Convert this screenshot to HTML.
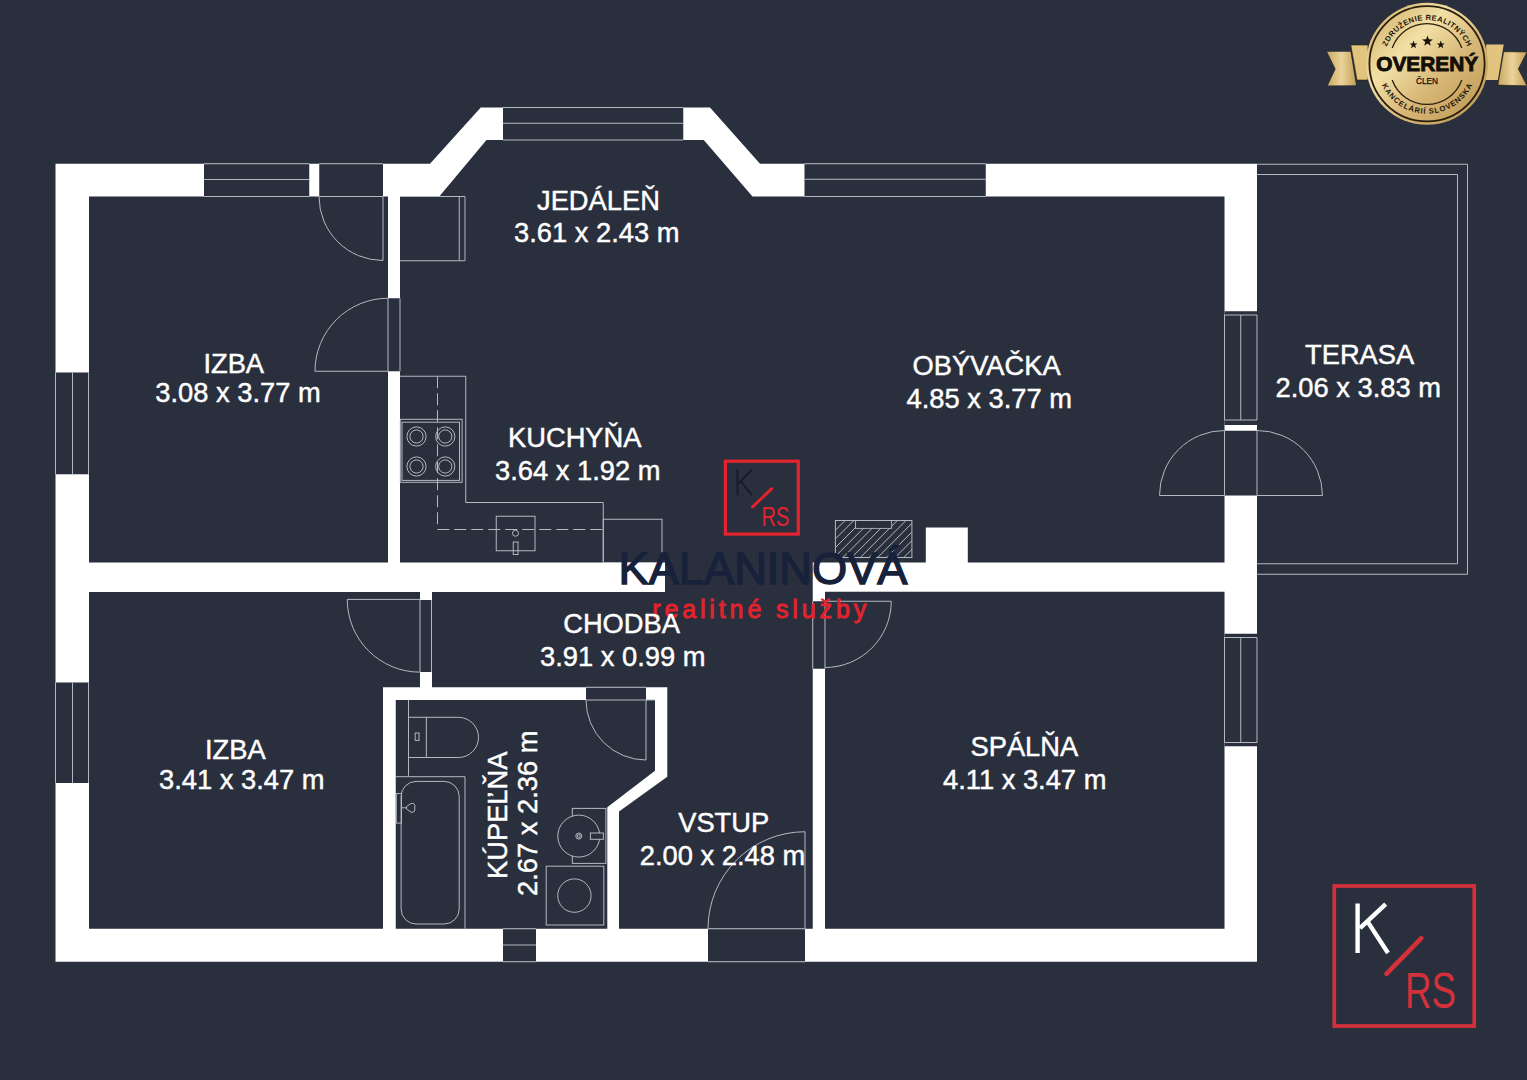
<!DOCTYPE html>
<html><head><meta charset="utf-8">
<style>
html,body{margin:0;padding:0;background:#2a2f3d;width:1527px;height:1080px;overflow:hidden}
svg{display:block}
.t{font-family:"Liberation Sans",sans-serif;font-size:27.3px;fill:#fff;stroke:#fff;stroke-width:0.45}
.ln{fill:none;stroke:#b3b8c2;stroke-width:1}
</style></head>
<body>
<svg width="1527" height="1080" viewBox="0 0 1527 1080">
<rect x="0" y="0" width="1527" height="1080" fill="#2a2f3d"/>
<!-- building footprint (white) -->
<polygon fill="#fff" points="55.5,163.75 430,163.75 480.75,107.5 710,107.5 760,163.75 1257,163.75 1257,961.75 55.5,961.75"/>
<g fill="#2a2f3d">
<rect x="89" y="196.5" width="299" height="366"/>
<polygon points="400,196.5 439.25,196.5 486.5,140 703.75,140 752.5,196.5 1224.5,196.5 1224.5,562.5 400,562.5"/>
<polygon points="89,592 420,592 420,687.25 383,687.25 383,928.75 89,928.75"/>
<polygon points="432,592 812.75,592 812.75,928.75 619,928.75 619,811.5 667.3,776.7 667.3,687.25 432,687.25"/>
<polygon points="395.75,700 655,700 655,770.8 607.3,807.2 607.3,928.75 395.75,928.75"/>
<rect x="825" y="591.75" width="399.5" height="337"/>
<!-- windows openings -->
<rect x="204" y="163.75" width="105.25" height="32.75"/>
<rect x="503" y="107.5" width="180.25" height="32.5"/>
<rect x="804.5" y="163.75" width="181.25" height="32.75"/>
<rect x="55.5" y="372.5" width="33.5" height="101.75"/>
<rect x="55.5" y="682.5" width="33.5" height="100.5"/>
<rect x="1224.5" y="311.25" width="32.5" height="113.75"/>
<rect x="1224.5" y="633.75" width="32.5" height="112.5"/>
<rect x="503" y="928.75" width="33" height="33"/>
<!-- door openings -->
<rect x="319.25" y="163.75" width="63.75" height="32.75"/>
<rect x="388" y="298.25" width="12" height="73"/>
<rect x="665" y="562" width="147.75" height="30.5"/>
<rect x="420" y="600" width="12" height="72"/>
<rect x="586" y="687.25" width="60" height="12.75"/>
<rect x="812.75" y="601.25" width="12.25" height="67.5"/>
<rect x="708" y="928.75" width="97" height="33"/>
<rect x="1224.5" y="430.75" width="32.5" height="64.75"/>
</g>
<!-- column block -->
<rect x="925.8" y="527.5" width="42" height="36" fill="#fff"/>
<g class="ln">
<!-- window lines -->
<path d="M204,163.75H309.25M204,179.5H309.25M204,196.5H309.25"/>
<path d="M503,107.5H683.25M503,123.25H683.25M503,140H683.25"/>
<path d="M804.5,163.75H985.75M804.5,179.25H985.75M804.5,196.5H985.75"/>
<path d="M55.5,372.5V474.25M72.5,372.5V474.25M88.5,372.5V474.25"/>
<path d="M55.5,682.5V783M72.5,682.5V783M88.5,682.5V783"/>
<path d="M1224.5,315H1257M1224.5,420H1257M1224.5,315V420M1240.75,315V420M1257,315V420"/>
<path d="M1224.5,637.5H1257M1224.5,742.5H1257M1224.5,637.5V742.5M1240.75,637.5V742.5M1257,637.5V742.5"/>
<path d="M503,928.75H536M503,945H536M503,961.75H536"/>
<!-- door: IZBA top -->
<path d="M319.25,163.75H383M319.25,196.5H383M319,196.5A64,64 0 0 0 383,260.5V196.5"/>
<!-- door IZBA -> kitchen -->
<path d="M388,298.25V371.25M400,298.25V371.25M315,371.25H388M315,371.25A73,73 0 0 1 388,298.25"/>
<!-- terrace double door -->
<path d="M1224.5,430.75V495.5M1257,430.75V495.5M1159.5,495.5H1224.5M1159.5,495.5A65,65 0 0 1 1224.5,430.5M1257,430.5A65.5,65.5 0 0 1 1322.5,495.5H1257"/>
<!-- door IZBA2 -->
<path d="M347.25,599.4H420V672.15M431.5,600V672M347.25,599.4A72.75,72.75 0 0 0 420,672.15"/>
<!-- bathroom door -->
<path d="M586,700H655M646,700V760M586,700A60,60 0 0 0 646,760M586,687.25H646"/>
<!-- bedroom door -->
<path d="M825,601.25H891.25M825,601.25V668.75M812.75,601.25V668.75M891.25,601.25A66.25,66.25 0 0 1 825,667.5"/>
<!-- entry door -->
<path d="M708,928.75H805M708,961.75H805M805,831.75V928.75M708,928.75A97,97 0 0 1 805,831.75"/>
<!-- terrace -->
<path d="M1257,164.25H1467.5V574.25H1257M1257,174.5H1457.5V563.75H1257"/>
<!-- kitchen cabinet -->
<path d="M400,196.5H465V260.75H400M459.25,196.5V260.75"/>
<!-- counter -->
<path d="M400,376.25H465.75V502.5H603.25V562.5"/>
<path d="M437.5,376.25V529.5H603.25" stroke-dasharray="12,5"/>
<rect x="400.3" y="419.3" width="61.8" height="63"/>
<rect x="402" y="422.2" width="57.5" height="58.2"/>
<circle cx="416.5" cy="436.5" r="9.6"/><circle cx="416.5" cy="436.5" r="6.6"/>
<circle cx="445.25" cy="436.5" r="9.6"/><circle cx="445.25" cy="436.5" r="6.6"/>
<circle cx="416.5" cy="466.5" r="9.6"/><circle cx="416.5" cy="466.5" r="6.6"/>
<circle cx="445.25" cy="466.5" r="9.6"/><circle cx="445.25" cy="466.5" r="6.6"/>
<rect x="496.25" y="516.25" width="38.75" height="34.5"/>
<circle cx="515.5" cy="533.25" r="3"/>
<rect x="513.25" y="542" width="4.75" height="12.5"/>
<rect x="603.25" y="519.25" width="58.75" height="43.25"/>
<!-- fireplace hatch -->
<rect x="835.4" y="520.5" width="76.5" height="37"/>
<rect x="855.6" y="520.5" width="36" height="7.8"/>
<!-- bathroom: toilet -->
<path d="M408.5,700V775.8"/>
<rect x="408.5" y="717.3" width="17.85" height="40.2"/>
<rect x="415.2" y="733" width="3.8" height="7.4"/>
<path d="M426.35,717.3H458.4A20.1,20.1 0 0 1 458.4,757.5H426.35"/>
<!-- tub -->
<path d="M395.75,776.7H465V928.75"/>
<rect x="401.1" y="781.4" width="58.1" height="142.6" rx="15" ry="15"/>
<rect x="396.3" y="793.6" width="5.2" height="29.5"/>
<path d="M401.1,807.8H406.5M406.5,806.6L411,803.6Q415,802.6 414.8,806Q414.8,808 414.8,810Q414.5,813 411,812.2L406.5,809Z"/>
<!-- sink -->
<rect x="572.3" y="808.4" width="33.6" height="55"/>
<circle cx="578.8" cy="836.1" r="21" fill="#2a2f3d"/>
<circle cx="578.8" cy="836.1" r="3"/><circle cx="578.8" cy="836.1" r="1.5"/>
<rect x="590.4" y="833" width="13" height="6.3" fill="#2a2f3d"/>
<!-- washing machine -->
<rect x="546.2" y="866.2" width="57.6" height="58.8"/>
<circle cx="574.4" cy="895.6" r="16.7"/>
</g>


<!-- fireplace hatch -->
<clipPath id="hc"><rect x="835.4" y="520.5" width="76.5" height="37"/></clipPath>
<g clip-path="url(#hc)" class="ln" stroke="#c4c7cc">
<path d="M799.40,557.5L836.40,520.5"/>
<path d="M808.10,557.5L845.10,520.5"/>
<path d="M816.80,557.5L853.80,520.5"/>
<path d="M825.50,557.5L862.50,520.5"/>
<path d="M834.20,557.5L871.20,520.5"/>
<path d="M842.90,557.5L879.90,520.5"/>
<path d="M851.60,557.5L888.60,520.5"/>
<path d="M860.30,557.5L897.30,520.5"/>
<path d="M869.00,557.5L906.00,520.5"/>
<path d="M877.70,557.5L914.70,520.5"/>
<path d="M886.40,557.5L923.40,520.5"/>
<path d="M895.10,557.5L932.10,520.5"/>
<path d="M903.80,557.5L940.80,520.5"/>
<path d="M912.50,557.5L949.50,520.5"/>
<path d="M921.20,557.5L958.20,520.5"/>
<path d="M929.90,557.5L966.90,520.5"/>
<path d="M938.60,557.5L975.60,520.5"/>
<path d="M947.30,557.5L984.30,520.5"/>
</g>
<rect x="856.1" y="521" width="35" height="6.8" fill="#2a2f3d"/>
<!-- KALANINOVA logo -->
<text x="763" y="584.2" text-anchor="middle" font-family="Liberation Sans, sans-serif" font-size="45.2" fill="#17213a" stroke="#17213a" stroke-width="1.4" textLength="289" lengthAdjust="spacingAndGlyphs">KALANINOVÁ</text>
<text x="652.2" y="617.8" font-family="Liberation Sans, sans-serif" font-size="25" fill="#e3232d" stroke="#e3232d" stroke-width="0.9" textLength="214" lengthAdjust="spacing">realitné služby</text>
<!-- small K/RS logo -->
<g fill="none" stroke-linecap="butt">
<rect x="725.4" y="461.2" width="72.9" height="72.9" stroke="#e3232d" stroke-width="3.2"/>
<path d="M737.5,469.5V495.3M751.7,469.9L738.3,483.7M741.25,482L752.1,495.3" stroke="#141c2e" stroke-width="2"/>
<path d="M771.7,488.7L752.5,507" stroke="#e3232d" stroke-width="3" stroke-linecap="round"/>
</g>
<text x="761.6" y="525.75" font-family="Liberation Sans, sans-serif" font-size="28.5" fill="#e3232d" textLength="27.8" lengthAdjust="spacingAndGlyphs">RS</text>
<!-- big K/RS logo -->
<g fill="none">
<rect x="1334.25" y="886" width="140" height="140" stroke="#d3313a" stroke-width="3.7"/>
<path d="M1357.6,903.4V953M1385.7,904.1L1360,928.2M1367.6,921.6L1388,953" stroke="#fff" stroke-width="4.4"/>
<path d="M1421.3,938.2L1386.5,973.8" stroke="#d3313a" stroke-width="4.6" stroke-linecap="round"/>
</g>
<text x="1405" y="1008" font-family="Liberation Sans, sans-serif" font-size="50" fill="#d3313a" textLength="51" lengthAdjust="spacingAndGlyphs">RS</text>

<!-- badge -->
<defs>
<linearGradient id="gold" x1="0" y1="0" x2="1" y2="1">
<stop offset="0" stop-color="#c9a55c"/>
<stop offset="0.35" stop-color="#f3e0a6"/>
<stop offset="0.6" stop-color="#d8b878"/>
<stop offset="1" stop-color="#b8924c"/>
</linearGradient>
<linearGradient id="gold2" x1="0" y1="0" x2="1" y2="0">
<stop offset="0" stop-color="#c9a860"/>
<stop offset="0.5" stop-color="#ead39a"/>
<stop offset="1" stop-color="#c4a058"/>
</linearGradient>
<path id="arcTop" d="M1385.85,48.82A43.8,43.8 0 0 1 1468.15,48.82"/>
<path id="arcBot" d="M1379.18,78.42A50,50 0 0 0 1474.82,78.42"/>
</defs>
<polygon points="1327.1,51.7 1350.5,51.7 1356,85.3 1327.8,85.5 1335.6,68.9" fill="url(#gold2)"/>
<polygon points="1350.8,45 1368,45 1368,80 1357,80" fill="#e2c47f" stroke="#2a1f0c" stroke-width="0.6"/>
<polygon points="1503.7,51.7 1527,52 1518.3,68.9 1527,85.8 1497.9,85.1" fill="url(#gold2)" stroke="#2a1f0c" stroke-width="0.6"/>
<polygon points="1486.2,44.6 1503.7,44.6 1497.9,79.9 1486,79.9" fill="#e2c47f"/>
<circle cx="1427" cy="63.8" r="61" fill="url(#gold)"/>
<circle cx="1427" cy="63.8" r="57.6" fill="none" stroke="#2a1f0c" stroke-width="1.8"/>
<path d="M1392.2,48A37,37 0 0 1 1461.8,48M1392.2,80A37,37 0 0 0 1461.8,80" fill="none" stroke="#2a1f0c" stroke-width="1.3"/>
<g fill="#17120a">
<polygon points="1427.50,35.60 1428.85,39.34 1432.83,39.47 1429.69,41.91 1430.79,45.73 1427.50,43.50 1424.21,45.73 1425.31,41.91 1422.17,39.47 1426.15,39.34"/>
<polygon points="1413.50,40.60 1414.53,43.38 1417.49,43.50 1415.16,45.34 1415.97,48.20 1413.50,46.55 1411.03,48.20 1411.84,45.34 1409.51,43.50 1412.47,43.38"/>
<polygon points="1440.80,40.60 1441.83,43.38 1444.79,43.50 1442.46,45.34 1443.27,48.20 1440.80,46.55 1438.33,48.20 1439.14,45.34 1436.81,43.50 1439.77,43.38"/>
</g>
<text x="1427.2" y="71.3" text-anchor="middle" font-family="Liberation Sans, sans-serif" font-weight="bold" font-size="20.5" fill="#120e08" stroke="#120e08" stroke-width="0.9" textLength="102" lengthAdjust="spacingAndGlyphs">OVERENÝ</text>
<text x="1427" y="83.6" text-anchor="middle" font-family="Liberation Sans, sans-serif" font-size="8.8" fill="#120e08" stroke="#120e08" stroke-width="0.25" textLength="22" lengthAdjust="spacingAndGlyphs">ČLEN</text>
<text font-family="Liberation Sans, sans-serif" font-weight="bold" font-size="7.6" fill="#1c150a"><textPath href="#arcTop" startOffset="50%" text-anchor="middle" textLength="102" lengthAdjust="spacing">ZDRUŽENIE  REALITNÝCH</textPath></text>
<text font-family="Liberation Sans, sans-serif" font-weight="bold" font-size="7.6" fill="#1c150a"><textPath href="#arcBot" startOffset="50%" text-anchor="middle" textLength="113" lengthAdjust="spacing">KANCELÁRIÍ  SLOVENSKA</textPath></text>
<g class="t">
<text x="537" y="210">JEDÁLEŇ</text>
<text x="514" y="242">3.61 x 2.43 m</text>
<text x="203.4" y="373.25">IZBA</text>
<text x="155.25" y="402">3.08 x 3.77 m</text>
<text x="508" y="447">KUCHYŇA</text>
<text x="495" y="480">3.64 x 1.92 m</text>
<text x="912.5" y="375">OBÝVAČKA</text>
<text x="906.5" y="408">4.85 x 3.77 m</text>
<text x="1305" y="364.25">TERASA</text>
<text x="1275.5" y="396.75">2.06 x 3.83 m</text>
<text x="563.2" y="633.2">CHODBA</text>
<text x="540" y="665.9">3.91 x 0.99 m</text>
<text x="205" y="759.25">IZBA</text>
<text x="159" y="789">3.41 x 3.47 m</text>
<text x="970.5" y="756.25">SPÁLŇA</text>
<text x="943" y="788.75">4.11 x 3.47 m</text>
<text x="678.2" y="831.8">VSTUP</text>
<text x="639.8" y="865">2.00 x 2.48 m</text>
<text transform="translate(507,879) rotate(-90)">KÚPEĽŇA</text>
<text transform="translate(537,896) rotate(-90)">2.67 x 2.36 m</text>
</g>
</svg>
</body></html>
